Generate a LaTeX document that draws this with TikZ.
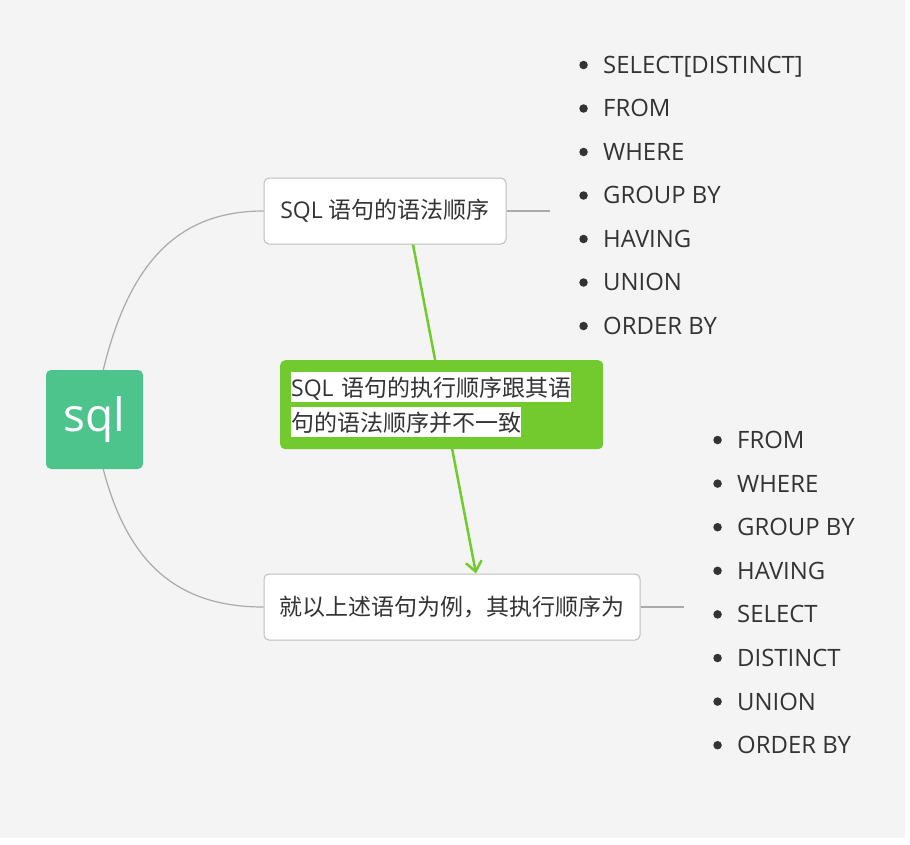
\documentclass[tikz,border=0pt]{standalone}
\usepackage{fontspec}
\setmainfont{Open Sans}
\newfontfamily\cjk{Noto Sans CJK SC}
\usetikzlibrary{positioning}
\usetikzlibrary{arrows.meta}
\usepackage{xcolor}
\definecolor{bggray}{HTML}{F4F4F4}
\definecolor{textgray}{HTML}{333333}
\definecolor{linegray}{HTML}{AAAAAA}
\definecolor{boxgray}{HTML}{BDBDBD}
\definecolor{rootgreen}{HTML}{4EC48D}
\definecolor{notegreen}{HTML}{72CB2E}
\newcommand\whitebg[1]{{\setlength{\fboxsep}{0pt}\colorbox{white}{\rule[-6pt]{0pt}{30pt}#1}}}

\begin{document}
\begin{tikzpicture}[x=1pt,y=-1pt,
    topic/.style={draw=boxgray, line width=1pt, fill=white, rounded corners=5pt, minimum height=66pt, text=textgray, font=\fontsize{23}{28}\selectfont},
    branch/.style={draw=linegray, line width=1.2pt},
    dotmark/.style={circle, fill=textgray, minimum size=8.5pt, inner sep=0pt},
    listitem/.style={anchor=west, inner sep=0pt, text height=16.8pt, text depth=0pt, text=textgray, font=\fontsize{23.9}{28}\selectfont, label={[dotmark, label distance=15pt]left:{}}}]
            % background
            \fill[white] (0,0) rectangle (910,844);
            \fill[bggray] (0,0) rectangle (905,838);

            % root and the two topics
            \node[fill=rootgreen, rounded corners=5pt, minimum width=97pt, minimum height=99pt, text=white, font=\fontsize{46}{50}\selectfont] (sql) at (94.5,419.5) {sql};
            \node[topic, minimum width=242pt] (syntax) at (385,211) {SQL {\cjk 语句的语法顺序}};
            \node[topic, minimum width=376pt, font=\cjk\fontsize{23}{28}\selectfont] (exec) at (452,607) {就以上述语句为例，其执行顺序为};

            \draw[branch] (sql.80) .. controls (130,260) and (180,211) .. (syntax.west);
            \draw[branch] (sql.-80) .. controls (128,564) and (178,607) .. (exec.west);

            \coordinate (synend) at (550,211);
            \coordinate (exeend) at (684,607);
            \draw[branch] (syntax.east) -- (synend);
            \draw[branch] (exec.east) -- (exeend);

            % relation between the topics
            \draw[notegreen, line width=2.5pt, -{Straight Barb[length=10pt,width=16pt]}] ([xshift=28pt]syntax.south) -- ([xshift=24pt]exec.north);
            \node[fill=notegreen, rounded corners=5pt, anchor=north west, inner xsep=11pt, inner ysep=12pt, text width=301pt, minimum height=89pt, align=left, text=textgray, font=\fontsize{23}{35}\selectfont] (note) at (280,360) {\whitebg{SQL {\cjk 语句的执行顺序跟其语}}\\\whitebg{\cjk 句的语法顺序并不一致}};

            % syntax order
            \node[listitem] (syn1) at (603,65) {SELECT[DISTINCT]};
            \node[listitem] (syn2) at (603,108.5) {FROM};
            \node[listitem] (syn3) at (603,152) {WHERE};
            \node[listitem] (syn4) at (603,195.5) {GROUP BY};
            \node[listitem] (syn5) at (603,239) {HAVING};
            \node[listitem] (syn6) at (603,282.5) {UNION};
            \node[listitem] (syn7) at (603,326) {ORDER BY};

            % execution order
            \node[listitem] (exe1) at (737,440) {FROM};
            \node[listitem] (exe2) at (737,483.6) {WHERE};
            \node[listitem] (exe3) at (737,527.2) {GROUP BY};
            \node[listitem] (exe4) at (737,570.8) {HAVING};
            \node[listitem] (exe5) at (737,614.4) {SELECT};
            \node[listitem] (exe6) at (737,658) {DISTINCT};
            \node[listitem] (exe7) at (737,701.6) {UNION};
            \node[listitem] (exe8) at (737,745.2) {ORDER BY};
        \end{tikzpicture}
\end{document}
